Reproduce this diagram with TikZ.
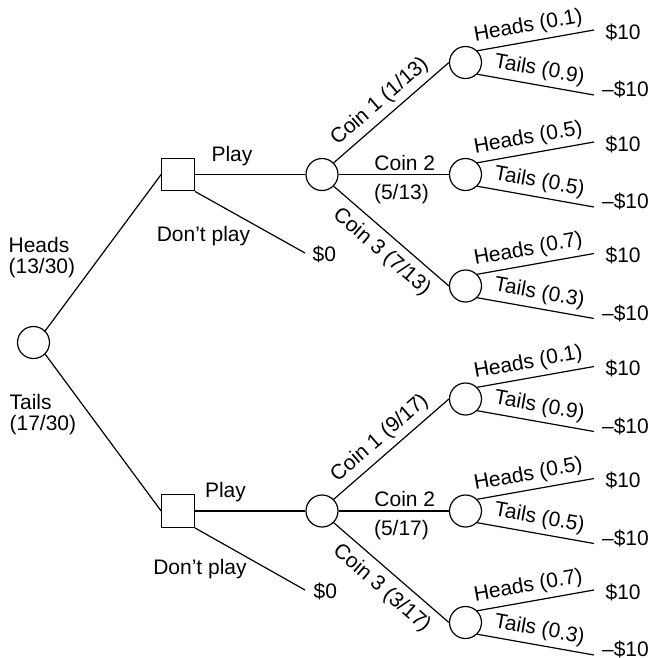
\documentclass[tikz,border=0pt]{standalone}
\usepackage{fontspec}
\setmainfont{Liberation Sans}
\begin{document}
\begin{tikzpicture}[x=0.75pt,y=-0.75pt,
  line width=0.9pt,
  every node/.style={font=\fontsize{15.75}{15.75}\selectfont, inner sep=0pt},
  chance/.style={circle, draw, line width=0.9pt, minimum size=24pt},
  decision/.style={rectangle, draw, line width=0.9pt, minimum size=24.4pt},
  lab/.style={sloped, inner sep=#1},
  lab/.default=3.5pt,
  payoff/.style={anchor=base west},
]
\useasboundingbox (0,0) rectangle (651,658);

% root chance node and the two decision nodes
\node[chance]   (root) at (33.5,342.5) {};
\node[decision] (dU)   at (178,174.5) {};
\node[decision] (dL)   at (178,511) {};

% chance nodes choosing the coin
\node[chance] (cU) at (322,174.5) {};
\node[chance] (cL) at (322,511) {};

% "don't play" end points
\coordinate (zU) at (305,253);
\coordinate (zL) at (305,590);
\node[payoff] (zUv) at (312,261.5) {\$0};
\node[payoff] (zLv) at (313,598) {\$0};

% first draw: heads or tails
\draw (root.north east) -- (dU.west);
\draw (root.south east) -- (dL.west);
\node[anchor=west, align=left] (hl) at (8,258) {Heads\\(13/30)};
\node[anchor=west, align=left] (tl) at (9,415) {Tails\\(17/30)};

% play / don't play
\draw (dU.east) -- (cU.west);
\draw (dL.east) -- (cL.west);
\draw (dU.south east) -- (zU);
\draw (dL.south east) -- (zL);
\node (pU)  at (232,156.5) {Play};
\node (pL)  at (225.5,492.5) {Play};
\node (npU) at (203.5,236.5) {Don’t play};
\node (npL) at (200,569) {Don’t play};

% coin nodes with their heads/tails outcomes
\foreach \nm/\y/\ph/\pt in {a1/62.5/0.1/0.9, a2/174.5/0.5/0.5, a3/286/0.7/0.3,
                            b1/399/0.1/0.9, b2/511/0.5/0.5, b3/622.5/0.7/0.3} {
  \node[chance] (\nm) at (465.5,\y) {};
  \coordinate (\nm h) at (594,\y-32.5);
  \coordinate (\nm t) at (594,\y+32.5);
  \node[payoff] (\nm hv) at (605,\y-23.5) {\$10};
  \node[payoff] (\nm tv) at (601.5,\y+34) {\textendash\$10};
  \draw (\nm.north east) -- node[lab, above, pos=0.46] {Heads (\ph)} (\nm h);
  \draw (\nm.south east) -- node[lab, above, pos=0.51] {Tails (\pt)} (\nm t);
}

% branches to the coins, upper tree
\draw (cU.north east) -- node[lab=4pt, above, pos=0.49] {Coin 1 (1/13)} (a1.west);
\draw (cU.east) -- node[above, inner sep=2.6pt, pos=0.6] {Coin 2}
                   node[below, inner sep=6.8pt, pos=0.57] {(5/13)} (a2.west);
\draw (cU.south east) -- node[lab=6pt, below, pos=0.52] {Coin 3 (7/13)} (a3.west);

% branches to the coins, lower tree
\draw (cL.north east) -- node[lab=4pt, above, pos=0.49] {Coin 1 (9/17)} (b1.west);
\draw (cL.east) -- node[above, inner sep=2.6pt, pos=0.6] {Coin 2}
                   node[below, inner sep=6.8pt, pos=0.57] {(5/17)} (b2.west);
\draw (cL.south east) -- node[lab=6pt, below, pos=0.52] {Coin 3 (3/17)} (b3.west);
\end{tikzpicture}
\end{document}
